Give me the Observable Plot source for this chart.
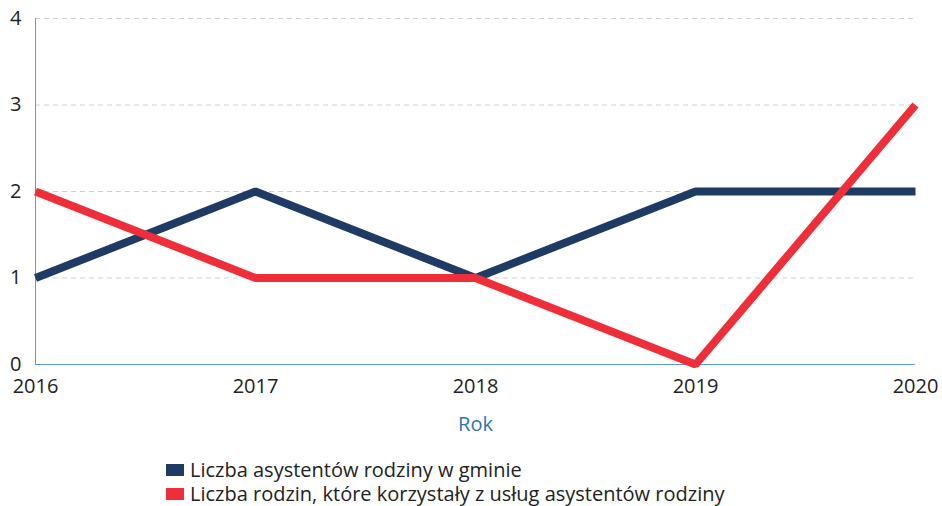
<!DOCTYPE html>
<html><head><meta charset="utf-8">
<script src="https://cdn.jsdelivr.net/npm/d3@7"></script>
<script src="https://cdn.jsdelivr.net/npm/@observablehq/plot@0.6"></script>
<style>
body{margin:0;background:#fff;font-family:"Open Sans",sans-serif;}
#legend{position:absolute;left:166px;top:458px;font-size:20px;color:#222;line-height:24px;}
.sw{display:inline-block;width:18px;height:12px;margin-right:6px;vertical-align:1px;}
</style></head><body>
<div id="chart"></div>
<div id="legend"></div>
<script>
const years = [2016, 2017, 2018, 2019, 2020];
const assistants = [1, 2, 1, 2, 2];
const families = [2, 1, 1, 0, 3];
const seriesNames = ["Liczba asystentów rodziny w gminie", "Liczba rodzin, które korzystały z usług asystentów rodziny"];
const seriesColors = ["#1d3b63", "#ee2f3a"];
const yTicks = [0, 1, 2, 3, 4];

const data = [];
years.forEach((y, i) => data.push({year: y, value: assistants[i], s: seriesNames[0]}));
years.forEach((y, i) => data.push({year: y, value: families[i], s: seriesNames[1]}));

const chart = Plot.plot({
  width: 942, height: 445,
  marginLeft: 35, marginRight: 27, marginTop: 18, marginBottom: 81,
  style: {fontFamily: "Open Sans", fontSize: "20px", color: "#222", background: "#fff"},
  x: {type: "linear", domain: [2016, 2020], label: null},
  y: {domain: [0, 4], label: null},
  color: {domain: seriesNames, range: seriesColors},
  marks: [
    Plot.ruleY(yTicks.filter(d => d > 0), {stroke: "#d0d0d0", strokeDasharray: "5,4", strokeWidth: 1}),
    Plot.ruleX([2016], {stroke: "#5b9bd5", strokeWidth: 1}),
    Plot.ruleY([0], {stroke: "#5b9bd5", strokeWidth: 1}),
    Plot.axisX({ticks: years, tickFormat: d => String(d), tickSize: 0, tickPadding: 14, fontSize: 20}),
    Plot.axisY({ticks: yTicks, tickFormat: d3.format("d"), tickSize: 0, tickPadding: 14, fontSize: 20}),
    Plot.text(["Rok"], {frameAnchor: "bottom", dy: 66, fill: "#2e75b6", fontSize: 20}),
    Plot.line(data, {x: "year", y: "value", z: "s", stroke: "s", strokeWidth: 8, strokeLinejoin: "miter", strokeLinecap: "butt"})
  ]
});
document.getElementById("chart").append(chart);

const lg = document.getElementById("legend");
seriesNames.forEach((n, i) => {
  const d = document.createElement("div");
  d.innerHTML = `<span class="sw" style="background:${seriesColors[i]}"></span>${n}`;
  lg.append(d);
});
</script>
</body></html>
